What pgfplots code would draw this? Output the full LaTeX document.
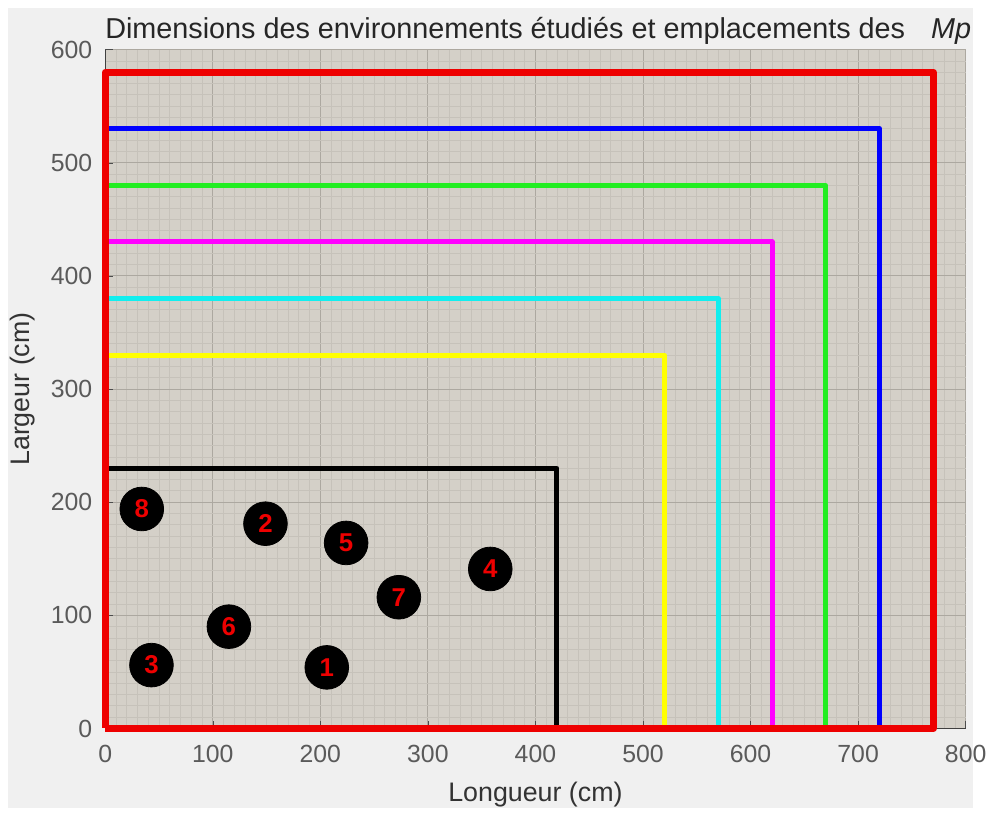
\documentclass[border=0pt]{standalone}
\usepackage{fontspec}
\setmainfont{Liberation Sans}
\usepackage{pgfplots}
\pgfplotsset{compat=1.18}

\definecolor{panel}{HTML}{F0F0F0}
\definecolor{plotbg}{HTML}{D4D0C8}
\definecolor{minorgrid}{HTML}{C6C2BA}
\definecolor{majorgrid}{HTML}{ACA8A0}
\definecolor{ticktext}{HTML}{5A5A5A}
\definecolor{mred}{HTML}{EE0000}
\definecolor{mgreen}{HTML}{22EE22}
\definecolor{mcyan}{HTML}{11EEEE}
\definecolor{mmagenta}{HTML}{FF00FF}
\definecolor{myellow}{HTML}{FFFF00}
\definecolor{mblue}{HTML}{0000FF}

% room sizes (1 px of the reference = 0.5pt)
\pgfplotstableread{
x y label
34  194 8
149 181 2
224 164 5
358 141 4
273 116 7
115 90  6
43  56  3
206 54  1
}\points

\begin{document}
\begin{tikzpicture}
  \fill[white] (0,0) rectangle (496.5pt,407pt);
  \fill[panel] (4pt,0) rectangle (490pt,403pt);
  \begin{axis}[
      at={(53pt,40pt)}, anchor=south west,
      width=433.5pt, height=342pt, scale only axis,
      xmin=0, xmax=800, ymin=0, ymax=600,
      xtick={0,100,...,800}, ytick={0,100,...,600},
      minor tick num=9,
      grid=both,
      minor grid style={minorgrid, line width=0.4pt},
      major grid style={majorgrid, line width=0.5pt},
      axis background/.style={fill=plotbg},
      axis x line=bottom, axis y line=left,
      axis line style={-, draw=black!75, line width=0.6pt},
      tick align=inside,
      major tick length=4pt, minor tick length=0pt,
      tick style={black!70},
      /pgf/number format/assume math mode=true,
      ticklabel style={font=\fontsize{12.5}{14}\selectfont, text=ticktext},
      xticklabel style={yshift=-5pt},
      yticklabel style={xshift=-3pt},
      xlabel={Longueur (cm)}, ylabel={Largeur (cm)},
      label style={font=\fontsize{13.5}{15}\selectfont, text=black!80},
      xlabel style={yshift=-3pt},
      ylabel style={yshift=1pt},
      title={Dimensions des environnements étudiés et emplacements des\hspace{0.9em}\textit{Mp}},
      title style={at={(0,1)}, anchor=south west, xshift=-3.5pt, yshift=-7pt,
                   font=\fontsize{14.5}{16}\selectfont, text=black!85},
      clip=false,
    ]
    \addplot[black, line width=2.5pt, line join=round] coordinates {(0,0) (420,0) (420,230) (0,230) (0,0)};
    \addplot[myellow, line width=2.5pt, line join=round] coordinates {(0,0) (520,0) (520,330) (0,330) (0,0)};
    \addplot[mcyan, line width=2.5pt, line join=round] coordinates {(0,0) (570,0) (570,380) (0,380) (0,0)};
    \addplot[mmagenta, line width=2.5pt, line join=round] coordinates {(0,0) (620,0) (620,430) (0,430) (0,0)};
    \addplot[mgreen, line width=2.5pt, line join=round] coordinates {(0,0) (670,0) (670,480) (0,480) (0,0)};
    \addplot[mblue, line width=2.5pt, line join=round] coordinates {(0,0) (720,0) (720,530) (0,530) (0,0)};
    \addplot[mred, line width=3.5pt, line join=round] coordinates {(0,0) (770,0) (770,580) (0,580) (0,0)};
    \addplot[only marks, mark=*, mark size=11pt, mark options={fill=black, draw=black},
      point meta=explicit symbolic,
      nodes near coords,
      every node near coord/.style={anchor=center, text=mred,
        font=\fontsize{13}{14}\selectfont\bfseries}]
      table[x=x, y=y, meta=label] {\points};
  \end{axis}
\end{tikzpicture}
\end{document}
